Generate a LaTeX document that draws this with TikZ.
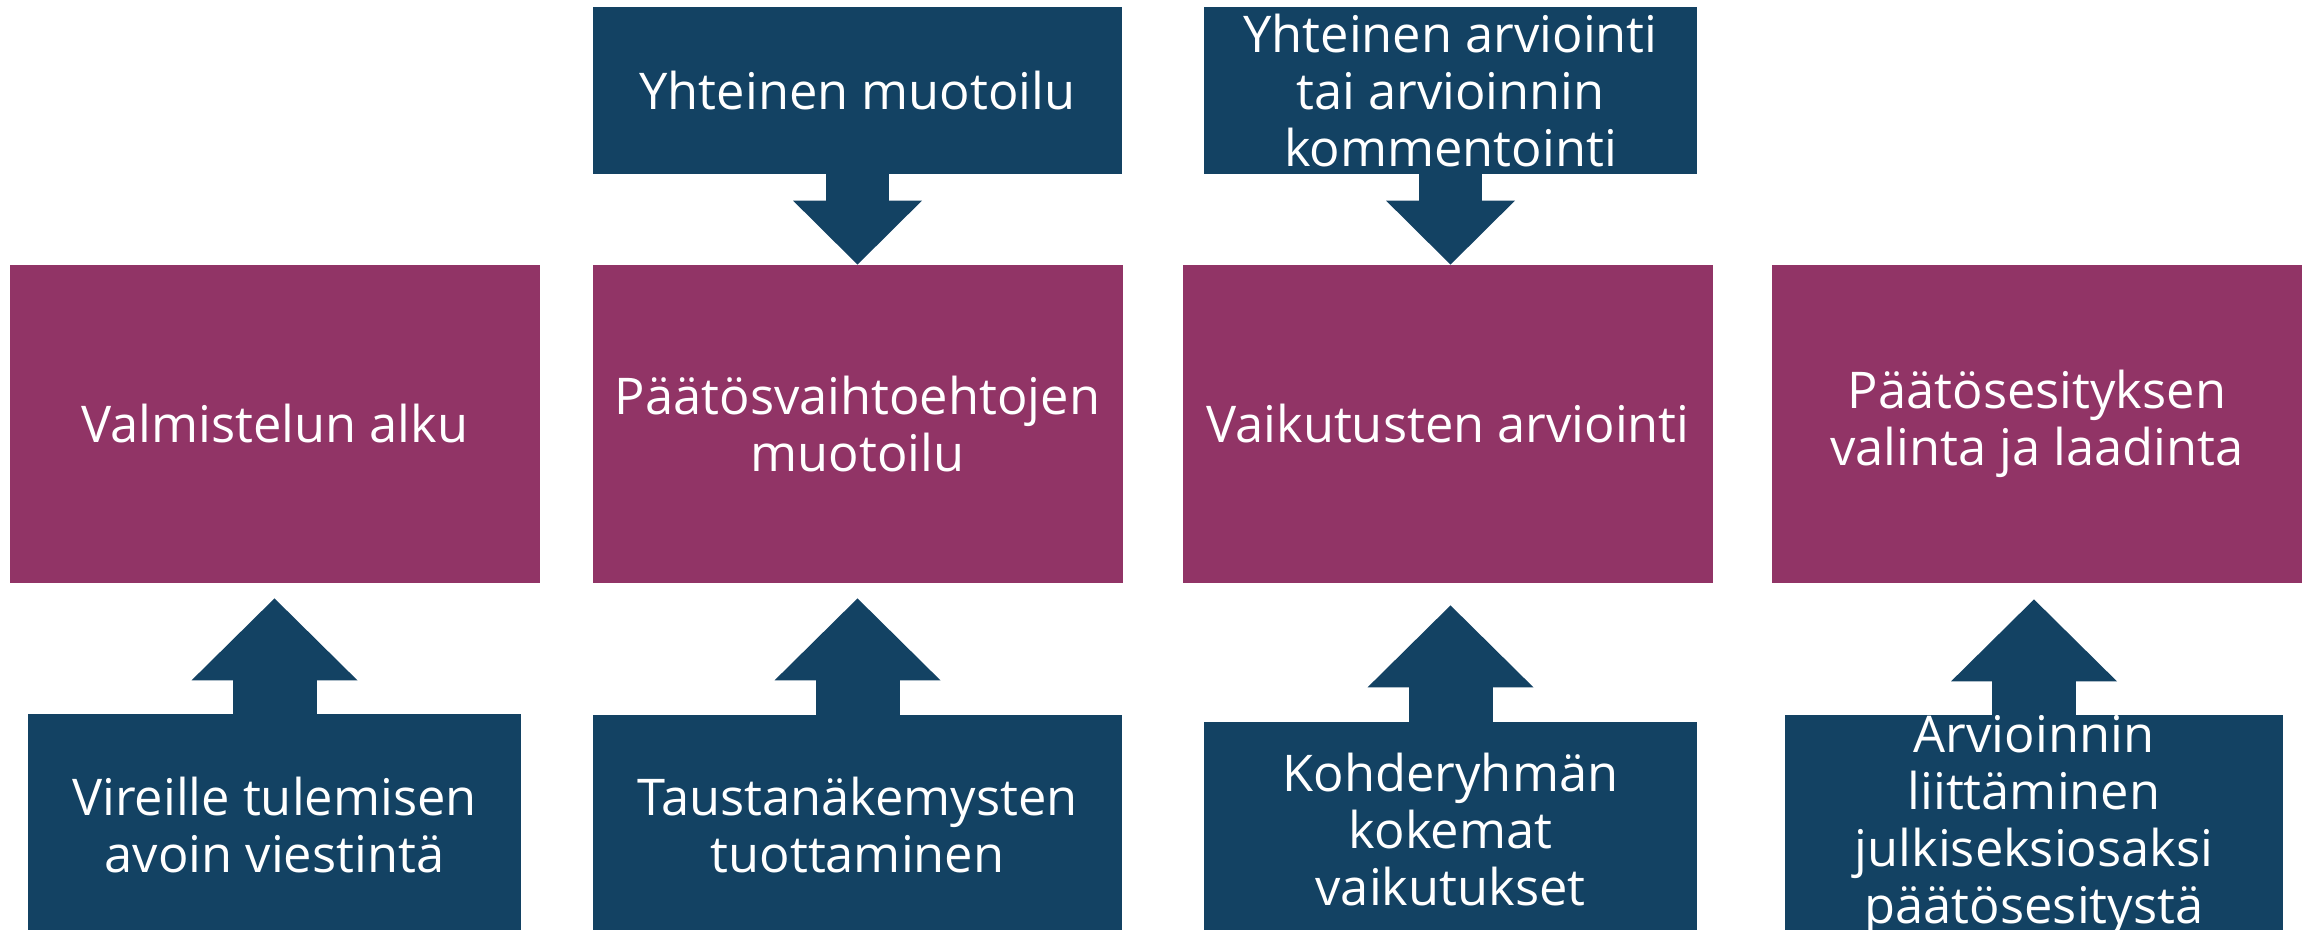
\documentclass[tikz,border=0pt]{standalone}
\usepackage{fontspec}
\setmainfont{Open Sans}
\usetikzlibrary{arrows.meta}

\definecolor{stagepurple}{HTML}{913466}
\definecolor{inputblue}{HTML}{134263}

\begin{document}
\begin{tikzpicture}[x=0.5pt, y=-0.5pt,
    box/.style={rectangle, inner sep=0pt, align=center, text=white,
      font=\fontsize{25.3pt}{28.5pt}\selectfont},
    stage/.style={box, fill=stagepurple, minimum width=265pt, minimum height=159pt},
    input/.style={box, fill=inputblue},
    uparrow/.style={inputblue, line width=42pt,
      -{Triangle[width=83pt, length=41pt, line width=0pt]}},
    downarrow/.style={inputblue, line width=31.5pt,
      -{Triangle[width=64.5pt, length=32pt, line width=0pt]}}]
  \useasboundingbox (0,0) rectangle (2308,930);

  % Four stages of the preparation
  \node[stage] (alku) at (275,424) {Valmistelun alku};
  \node[stage] (muotoilu) at (857.5,424) {Päätösvaihtoehtojen\\muotoilu};
  \node[stage] (arviointi) at (1448,424) {Vaikutusten arviointi};
  \node[stage] (esitys) at (2037,424) {Päätösesityksen\\valinta ja laadinta};

  % Inputs from above
  \node[input, minimum width=264.5pt, minimum height=83.5pt] (yhtmuot) at (857.5,90.5) {Yhteinen muotoilu};
  \node[input, minimum width=246.5pt, minimum height=83.5pt] (yhtarv) at (1450.5,90.5) {Yhteinen arviointi\\tai arvioinnin\\kommentointi};

  % Inputs from below (they run off the lower edge)
  \node[input, minimum width=246.5pt, minimum height=110.5pt, anchor=north] (vireille) at (274.5,714) {Vireille tulemisen\\avoin viestintä};
  \node[input, minimum width=264.5pt, minimum height=110pt, anchor=north] (tausta) at (857.5,715) {Taustanäkemysten\\tuottaminen};
  \node[input, minimum width=246.5pt, minimum height=107pt, anchor=north] (kohde) at (1450.5,722) {Kohderyhmän\\kokemat\\vaikutukset};
  \node[input, minimum width=249pt, minimum height=110pt, anchor=north] (liitto) at (2034,715) {Arvioinnin\\liittäminen\\julkiseksiosaksi\\päätösesitystä};

  % Block arrows
  \draw[downarrow] (yhtmuot.south) -- (muotoilu.north);
  \draw[downarrow] (yhtarv.south) -- (yhtarv.south |- arviointi.north);
  \draw[uparrow, shorten >=7.5pt] (vireille.north) -- (vireille.north |- alku.south);
  \draw[uparrow, shorten >=7.5pt] (tausta.north) -- (muotoilu.south);
  \draw[uparrow, shorten >=11pt] (kohde.north) -- (kohde.north |- arviointi.south);
  \draw[uparrow, shorten >=8pt] (liitto.north) -- (liitto.north |- esitys.south);

\end{tikzpicture}
\end{document}
